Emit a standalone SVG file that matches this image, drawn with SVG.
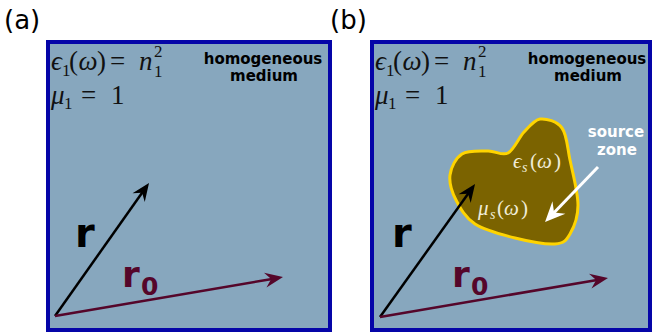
<svg xmlns="http://www.w3.org/2000/svg" width="654" height="333" viewBox="0 0 654 333">
<style>
.panel{fill:#87a7be;stroke:#0505a8;stroke-width:4}
.lbl{font-family:"DejaVu Sans",sans-serif;font-size:26px;fill:#000}
.math{font-family:"Liberation Serif","DejaVu Serif",serif;font-style:italic;fill:#111;font-size:27px}
.up{font-style:normal}
.small{font-size:17px}
.note{font-family:"DejaVu Sans",sans-serif;font-weight:bold;font-size:15px;text-anchor:middle}
.big{font-family:"DejaVu Sans",sans-serif;font-weight:bold}
.lt{fill:#f0ecd8;font-size:21px}
.vr{stroke:#000;stroke-width:2.5;fill:none}
.vr0{stroke:#55062a;stroke-width:2.5;fill:none}
.vw{stroke:#fff;stroke-width:3;fill:none}
</style>
<defs>
<marker id="hk" markerUnits="userSpaceOnUse" orient="auto" refX="0" refY="0" markerWidth="40" markerHeight="40" viewBox="-20 -20 40 40" overflow="visible">
<path d="M8,0 L-10,-7.5 L-4,0 L-10,7.5 Z" fill="#000"/>
</marker>
<marker id="hm" markerUnits="userSpaceOnUse" orient="auto" refX="0" refY="0" markerWidth="40" markerHeight="40" viewBox="-20 -20 40 40" overflow="visible">
<path d="M8,0 L-10,-7.5 L-4,0 L-10,7.5 Z" fill="#55062a"/>
</marker>
<marker id="hw" markerUnits="userSpaceOnUse" orient="auto" refX="0" refY="0" markerWidth="40" markerHeight="40" viewBox="-20 -20 40 40" overflow="visible">
<path d="M8,0 L-12,-9 L-5,0 L-12,9 Z" fill="#fff"/>
</marker>
</defs>

<g id="panel-a">
<text class="lbl" x="4" y="29">(a)</text>
<rect class="panel" x="48" y="42" width="282" height="288"/>
<text class="math" y="70"><tspan x="51">ϵ</tspan><tspan class="up small" x="62" y="76">1</tspan><tspan class="up" x="69" y="70">(</tspan><tspan x="78.5">ω</tspan><tspan class="up" x="97">)</tspan><tspan class="up" x="110">=</tspan><tspan x="139">n</tspan><tspan class="up small" x="154" y="57">2</tspan><tspan class="up small" x="154" y="77">1</tspan></text>
<text class="math" y="104"><tspan x="51">μ</tspan><tspan class="up small" x="64" y="109">1</tspan><tspan class="up" x="81" y="104">=</tspan><tspan class="up" x="111">1</tspan></text>
<text class="note" x="263" y="64">homogeneous</text>
<text class="note" x="264" y="81">medium</text>
<text class="big" x="75" y="247" font-size="40" fill="#000">r</text>
<text class="big" fill="#55062a"><tspan x="122" y="287" font-size="36">r</tspan><tspan x="141" y="295" font-size="25">0</tspan></text>
</g>

<g id="panel-b">
<text class="lbl" x="330" y="29">(b)</text>
<rect class="panel" x="372" y="42" width="278" height="288"/>
<text class="math" y="70"><tspan x="375">ϵ</tspan><tspan class="up small" x="386" y="76">1</tspan><tspan class="up" x="393" y="70">(</tspan><tspan x="402.5">ω</tspan><tspan class="up" x="421">)</tspan><tspan class="up" x="434">=</tspan><tspan x="463">n</tspan><tspan class="up small" x="478" y="57">2</tspan><tspan class="up small" x="478" y="77">1</tspan></text>
<text class="math" y="104"><tspan x="375">μ</tspan><tspan class="up small" x="388" y="109">1</tspan><tspan class="up" x="405" y="104">=</tspan><tspan class="up" x="435">1</tspan></text>
<text class="note" x="587" y="64">homogeneous</text>
<text class="note" x="588" y="81">medium</text>
</g>

<g id="source-zone">
<path d="M540,119 C546.3,118.3 557,121.2 562,128 C567,134.8 567.3,147.2 570,160 C572.7,172.8 578,192.7 578,205 C578,217.3 573.8,227.5 570,234 C566.2,240.5 564.2,243.3 555,244 C545.8,244.7 528.3,241.3 515,238 C501.7,234.7 484.8,230.3 475,224 C465.2,217.7 460.2,208.2 456,200 C451.8,191.8 449,182.7 450,175 C451,167.3 455.7,158 462,154 C468.3,150 480.3,151.2 488,151 C495.7,150.8 502,156.2 508,153 C514,149.8 518.7,137.7 524,132 C529.3,126.3 534.7,119.7 540,119 Z" fill="#7b6300" stroke="#ffd400" stroke-width="3"/>
<text class="math lt" y="168"><tspan x="513">ϵ</tspan><tspan x="522" y="172" font-size="14">s</tspan><tspan class="up" x="530" y="168">(</tspan><tspan x="537">ω</tspan><tspan class="up" x="554">)</tspan></text>
<text class="math lt" y="215"><tspan x="478">μ</tspan><tspan x="490" y="219" font-size="14">s</tspan><tspan class="up" x="497" y="215">(</tspan><tspan x="504">ω</tspan><tspan class="up" x="521">)</tspan></text>
<text class="note" x="616" y="137" fill="#fff">source</text>
<text class="note" x="617" y="155" fill="#fff">zone</text>
</g>

<g id="labels-b">
<text class="big" x="392" y="247" font-size="40" fill="#000">r</text>
<text class="big" fill="#55062a"><tspan x="452" y="287" font-size="36">r</tspan><tspan x="471" y="295" font-size="25">0</tspan></text>
</g>

<g id="connectors">
<line class="vr" x1="55" y1="316" x2="144.4" y2="189.5" marker-end="url(#hk)"/>
<line class="vr0" x1="55" y1="316" x2="275.1" y2="278.4" marker-end="url(#hm)"/>
<line class="vr" x1="380" y1="317" x2="470.4" y2="190.5" marker-end="url(#hk)"/>
<line class="vr0" x1="380" y1="317" x2="600.1" y2="279.4" marker-end="url(#hm)"/>
<line class="vw" x1="598" y1="167" x2="550.6" y2="216.2" marker-end="url(#hw)"/>
</g>
</svg>
